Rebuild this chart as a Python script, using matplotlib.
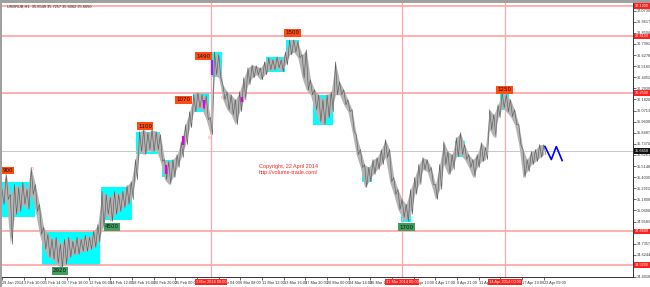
import numpy as np
import matplotlib.pyplot as plt
from matplotlib.patches import Rectangle
import matplotlib.transforms as mtransforms

# USDRUB H1, sampled every 10 bars: high / low of each chunk
step = 10
bar_hi = [35.28, 35.43, 35.23, 35.33, 35.30, 35.35, 35.28, 35.50, 35.33, 35.13,
          34.90, 34.83, 34.78, 34.80, 34.73, 34.78, 34.80, 34.76, 34.80, 34.78,
          34.82, 34.80, 34.86, 34.93, 35.26, 35.23, 35.20, 35.26, 35.23, 35.26,
          35.32, 35.36, 35.58, 35.86, 35.88, 35.85, 35.88, 35.86, 35.83, 35.58,
          35.56, 35.58, 35.63, 35.76, 35.93, 36.06, 36.23, 36.25, 36.23, 36.22,
          36.00, 36.66, 36.63, 36.33, 36.26, 36.23, 36.18, 36.26, 36.40, 36.50,
          36.53, 36.52, 36.50, 36.56, 36.60, 36.58, 36.61, 36.58, 36.66, 36.78,
          36.78, 36.76, 36.63, 36.68, 36.38, 36.28, 36.23, 36.18, 36.23, 36.26,
          36.56, 36.36, 36.28, 36.18, 36.08, 35.83, 35.68, 35.53, 35.50, 35.58,
          35.60, 35.68, 35.78, 35.68, 35.40, 35.28, 35.18, 35.13, 35.28, 35.40,
          35.53, 35.60, 35.58, 35.50, 35.33, 35.53, 35.76, 35.66, 35.63, 35.80,
          35.85, 35.73, 35.63, 35.58, 35.63, 35.75, 35.70, 36.08, 36.03, 36.13,
          36.25, 36.23, 36.18, 36.08, 35.93, 35.68, 35.58, 35.66, 35.68, 35.73,
          35.73]
bar_lo = [35.13, 35.18, 34.73, 35.03, 35.06, 35.13, 35.08, 35.23, 35.06, 34.83,
          34.68, 34.60, 34.58, 34.54, 34.50, 34.53, 34.60, 34.63, 34.63, 34.66,
          34.66, 34.68, 34.70, 34.75, 34.88, 35.03, 34.96, 35.03, 35.06, 35.10,
          35.13, 35.18, 35.38, 35.66, 35.63, 35.68, 35.66, 35.68, 35.56, 35.38,
          35.33, 35.40, 35.50, 35.60, 35.73, 35.90, 36.06, 36.10, 36.08, 35.98,
          35.83, 36.43, 36.40, 36.18, 36.08, 36.03, 35.93, 36.06, 36.18, 36.33,
          36.40, 36.43, 36.38, 36.43, 36.48, 36.48, 36.50, 36.46, 36.53, 36.63,
          36.66, 36.60, 36.40, 36.28, 36.23, 36.08, 35.96, 35.93, 36.00, 36.06,
          36.23, 36.23, 36.13, 36.06, 35.86, 35.63, 35.50, 35.30, 35.36, 35.43,
          35.48, 35.53, 35.60, 35.36, 35.23, 35.08, 35.00, 34.96, 35.03, 35.23,
          35.33, 35.48, 35.46, 35.33, 35.18, 35.28, 35.53, 35.43, 35.48, 35.61,
          35.63, 35.58, 35.50, 35.40, 35.50, 35.56, 35.58, 35.88, 35.80, 36.00,
          36.10, 36.06, 36.01, 35.93, 35.73, 35.40, 35.46, 35.53, 35.56, 35.60,
          35.63]

# highlighted (magenta) bars
mag_bar = [394, 434, 485, 504, 576]
mag_lo = [35.43, 35.73, 36.10, 36.43, 36.16]
mag_hi = [35.53, 35.82, 36.18, 36.58, 36.21]

# cyan zones
box_start = [0, 96, 238, 322, 384, 458, 502, 634, 682, 746, 864, 958, 1087, 1195]
box_end = [79, 235, 312, 379, 415, 497, 528, 679, 713, 794, 888, 982, 1111, 1217]
box_top = [35.35, 34.85, 35.30, 35.86, 35.58, 36.25, 36.66, 36.61, 36.78, 36.23, 35.51, 35.10, 35.77, 36.25]
box_bot = [35.00, 34.52, 34.97, 35.64, 35.40, 36.06, 36.41, 36.46, 36.65, 35.93, 35.35, 34.95, 35.61, 36.08]

# volume labels
lab_text = ["900", "2920", "4500", "1100", "1070", "1490", "1500", "1700", "1250"]
lab_bar = [13, 139, 264, 343, 436, 484, 697, 970, 1206]
lab_price = [35.47, 34.465, 34.905, 35.915, 36.18, 36.615, 36.85, 34.90, 36.28]
lab_kind = ["o", "g", "g", "o", "o", "o", "o", "g", "o"]

zero_bar = [72, 497, 528]
zero_price = [35.49, 35.80, 36.20]

# forecast zigzag
fc_bar = [1303, 1318, 1330, 1344]
fc_price = [35.71, 35.58, 35.71, 35.57]

hlines = [37.12, 36.815, 36.25, 34.86, 34.52]
vlines = [502, 960, 1207]
vline_text = ["3 Mar 2014 00:00", "31 Mar 2014 00:00", "14 Apr 2014 00:00"]
last_price = 35.665

xtick_text = ["29 Jan 2014", "3 Feb 10:00", "5 Feb 14:00", "7 Feb 18:00", "12 Feb 06:00",
              "14 Feb 12:00", "18 Feb 16:00", "20 Feb 20:00", "25 Feb 00:00", "27 Feb 04:00",
              "4 Mar 04:00", "6 Mar 08:00", "11 Mar 12:00", "13 Mar 16:00", "17 Mar 20:00",
              "20 Mar 00:00", "24 Mar 14:00", "26 Mar 18:00", "28 Mar 22:00", "1 Apr 13:00",
              "4 Apr 17:00", "8 Apr 21:00", "11 Apr 01:00", "15 Apr 05:00", "17 Apr 19:00",
              "22 Apr 09:00"]

small = dict(family=["Liberation Sans", "DejaVu Sans"], size=2.8)

fig = plt.figure(figsize=(6.5, 2.87), dpi=100)
ax = fig.add_axes([2 / 650, 10 / 287, 631 / 650, 274 / 287])
ax.set_xlim(0, 1514)
ax.set_ylim(34.41, 37.15)

# zones first
for s, e, t, b in zip(box_start, box_end, box_top, box_bot):
    ax.add_patch(Rectangle((s, b), e - s, t - b, color="#00FFFF", lw=0, zorder=1))

for p in hlines:
    ax.axhline(p, color="#FF9A9A", lw=1.1, zorder=1.5)
for v in vlines:
    ax.axvline(v, color="#FFA8A8", lw=0.9, zorder=1.5)
ax.axhline(last_price, color="#C8C8C8", lw=0.7, zorder=1.2)

# price bars
n = len(bar_hi)
xs = np.arange(n) * step
ax.fill_between(xs, bar_lo, bar_hi, color="#B4B4B4", lw=0, zorder=2)
zx = np.ravel(np.column_stack([xs, xs + step / 2]))
zy = np.ravel(np.column_stack([bar_hi, bar_lo]))
ax.plot(zx, zy, color="#5E5E5E", lw=0.45, zorder=2.2)
ax.vlines(mag_bar, mag_lo, mag_hi, color="#E000E0", lw=1.6, zorder=2.4)

ax.plot(fc_bar, fc_price, color="#0000FF", lw=1.2, zorder=3)

for t, bx, py, k in zip(lab_text, lab_bar, lab_price, lab_kind):
    fc = "#FF4A12" if k == "o" else "#3E9E5E"
    ax.text(bx, py, t, fontsize=4.0, ha="center", va="center", color="#111111", zorder=5,
            bbox=dict(boxstyle="square,pad=0.25", fc=fc, ec="none"))
for bx, py in zip(zero_bar, zero_price):
    ax.text(bx, py, "0", fontsize=3.2, ha="center", va="center", color="#FF7070", zorder=4)

cfont = dict(family=["Liberation Sans", "DejaVu Sans"], size=4.0)
ax.text(688, 35.51, "Copyright, 22 April 2014", color="#FF2020", ha="center", va="center", **cfont)
ax.text(688, 35.445, "http://volume-trade.com/", color="#FF2020", ha="center", va="center", **cfont)

# axes styling
for side in ["left", "top"]:
    ax.spines[side].set_visible(False)
for side in ["right", "bottom"]:
    ax.spines[side].set_linewidth(0.7)
    ax.spines[side].set_color("#333333")
ax.yaxis.tick_right()
yt = 37.073 - 0.1113 * np.arange(25)
ax.set_yticks(yt)
ax.set_yticklabels(["%.4f" % v for v in yt], **small)
ax.set_xticks(np.arange(len(xtick_text)) * 52)
ax.set_xticklabels(xtick_text, ha="left", **small)
ax.tick_params(axis="both", length=2, width=0.5, pad=1.0, colors="#333333")

ytr = mtransforms.blended_transform_factory(ax.transAxes, ax.transData)
for p in hlines:
    ax.text(1.003, p, "%.4f" % p, transform=ytr, color="white", va="center", ha="left",
            zorder=6, clip_on=False, bbox=dict(boxstyle="square,pad=0.2", fc="#FF2020", ec="none"), **small)
ax.text(1.003, last_price, "%.4f" % last_price, transform=ytr, color="white",
        va="center", ha="left", zorder=6, clip_on=False,
        bbox=dict(boxstyle="square,pad=0.2", fc="#111111", ec="none"), **small)
xtr = mtransforms.blended_transform_factory(ax.transData, ax.transAxes)
for v, t in zip(vlines, vline_text):
    ax.text(v, -0.01, t, transform=xtr, color="white", va="top", ha="center",
            zorder=6, clip_on=False, bbox=dict(boxstyle="square,pad=0.2", fc="#FF2020", ec="none"), **small)

ax.text(0.008, 0.993, "USDRUB,H1  35.6549 35.7257 35.6062 35.6650", transform=ax.transAxes,
        color="#222222", va="top", ha="left", **small)

# window frame
fig.add_artist(Rectangle((0, 1 - 2.5 / 287), 1, 2.5 / 287, transform=fig.transFigure, color="#A0A0A0", lw=0))
fig.add_artist(Rectangle((0, 0), 1.5 / 650, 1, transform=fig.transFigure, color="#A0A0A0", lw=0))

fig.savefig("out.png", dpi=100)
